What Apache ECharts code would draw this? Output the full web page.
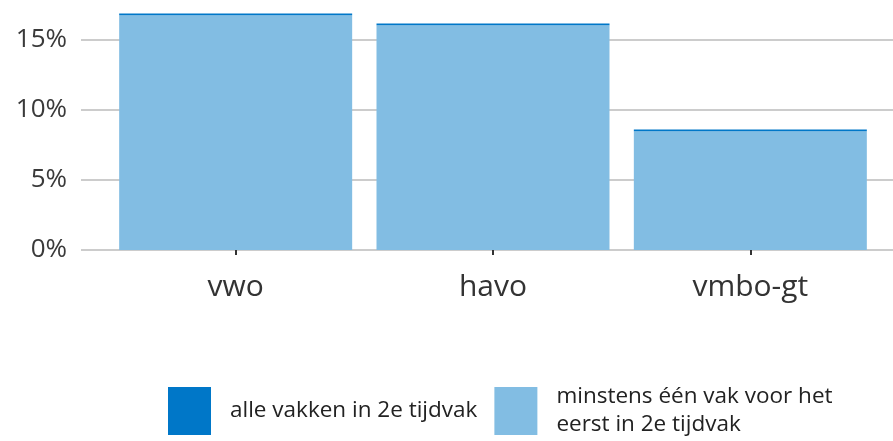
<!DOCTYPE html>
<html>
<head>
<meta charset="utf-8">
<script src="https://cdn.jsdelivr.net/npm/echarts@6/dist/echarts.min.js"></script>
<style>
  html, body { margin: 0; padding: 0; background: #fff; overflow: hidden; }
  /* the chart is 30px taller and shifted up so that the 20% grid line falls outside the page */
  #chart { width: 893px; height: 471px; margin-top: -30px; }
</style>
</head>
<body>
<div id="chart"></div>
<script>
// data
const categories = ['vwo', 'havo', 'vmbo-gt'];
const allSecond = [0.14, 0.12, 0.12];       // alle vakken in 2e tijdvak
const firstSecond = [16.76, 16.05, 8.48];   // minstens één vak voor het eerst in 2e tijdvak
const yTicks = [0, 5, 10, 15];

const FONT = '"Open Sans", "DejaVu Sans", sans-serif';
const DARK = '#0077c8';
const LIGHT = '#82bde3';

const chart = echarts.init(document.getElementById('chart'));

chart.setOption({
  animation: false,
  textStyle: { fontFamily: FONT },
  grid: [
    { left: 81, right: 0, top: 0, bottom: 191 },   // grid lines + y labels
    { left: 107, right: 14, top: 0, bottom: 191 }  // bars
  ],
  legend: {
    left: 168,
    top: 413,
    padding: 0,
    itemWidth: 43,
    itemHeight: 48,
    itemGap: 17,
    icon: 'rect',
    data: ['alle vakken in 2e tijdvak', 'minstens één vak voor het\neerst in 2e tijdvak'],
    textStyle: { fontSize: 22.5, color: '#222', lineHeight: 28, padding: [0, 0, 0, 14] }
  },
  xAxis: [
    { gridIndex: 0, type: 'value', min: 0, max: 1, show: false },
    {
      gridIndex: 1,
      type: 'category',
      data: categories,
      offset: 13,
      axisLine: { show: false },
      axisTick: {
        show: true,
        alignWithLabel: true,
        length: 5,
        lineStyle: { color: '#333', width: 2 }
      },
      axisLabel: { fontSize: 30, color: '#333', margin: 9 }
    }
  ],
  yAxis: [
    {
      gridIndex: 0,
      type: 'value',
      min: 0,
      max: 20,
      interval: 5,
      axisLine: { show: false },
      axisTick: { show: false },
      axisLabel: {
        fontSize: 26,
        color: '#3a3a3a',
        margin: 14,
        formatter: v => (yTicks.includes(v) ? v + '%' : '')
      },
      splitLine: { lineStyle: { color: '#cccccc', width: 2 } }
    },
    { gridIndex: 1, type: 'value', min: 0, max: 20, show: false }
  ],
  series: [
    {
      name: 'minstens één vak voor het\neerst in 2e tijdvak',
      type: 'bar',
      stack: 'total',
      xAxisIndex: 1,
      yAxisIndex: 1,
      barWidth: 233,
      itemStyle: { color: LIGHT },
      data: firstSecond
    },
    {
      name: 'alle vakken in 2e tijdvak',
      type: 'bar',
      stack: 'total',
      xAxisIndex: 1,
      yAxisIndex: 1,
      barWidth: 233,
      itemStyle: { color: DARK },
      data: allSecond
    }
  ]
});
</script>
</body>
</html>
